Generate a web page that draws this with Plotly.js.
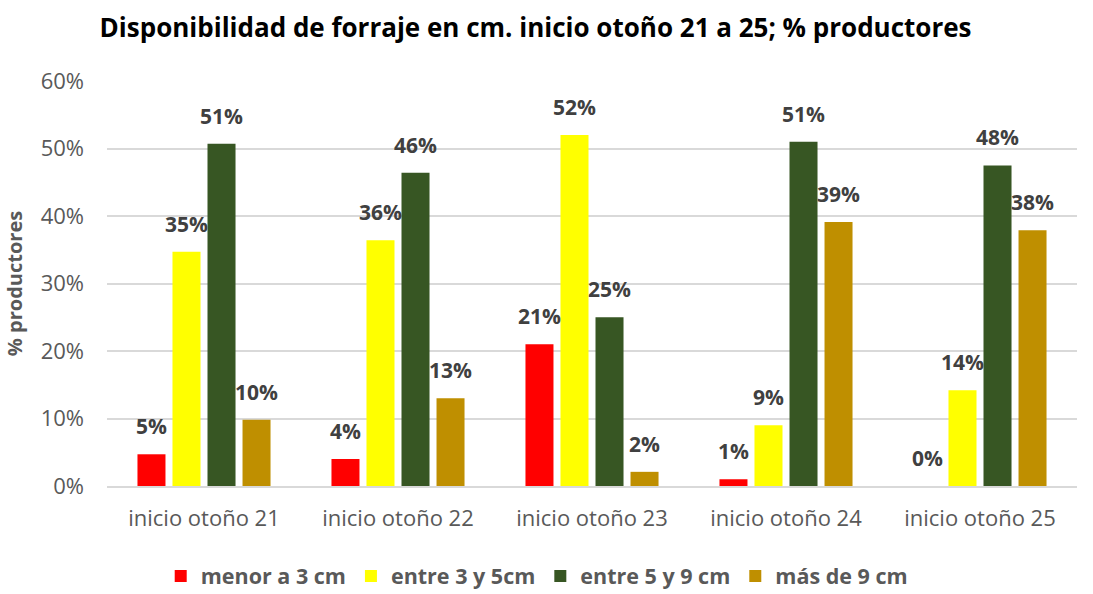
<!DOCTYPE html>
<html>
<head>
<meta charset="utf-8">
<script src="https://cdn.plot.ly/plotly-3.0.1.min.js"></script>
<style>html,body{margin:0;padding:0;background:#fff;}#chart{width:1093px;height:594px;}</style>
</head>
<body>
<div id="chart"></div>
<script>
const categories = ["inicio otoño 21", "inicio otoño 22", "inicio otoño 23", "inicio otoño 24", "inicio otoño 25"];
const seriesNames = ["menor a 3 cm", "entre 3 y 5cm", "entre 5 y 9 cm", "más de 9 cm"];
const menor3 = [0.047, 0.040, 0.210, 0.010, 0.000];
const entre3y5 = [0.347, 0.364, 0.520, 0.090, 0.142];
const entre5y9 = [0.507, 0.464, 0.250, 0.510, 0.475];
const mas9 = [0.098, 0.130, 0.021, 0.391, 0.379];
const labels = [
  ["5%", "4%", "21%", "1%", "0%"],
  ["35%", "36%", "52%", "9%", "14%"],
  ["51%", "46%", "25%", "51%", "48%"],
  ["10%", "13%", "2%", "39%", "38%"]
];
const colors = ["#ff0000", "#ffff00", "#375623", "#bf8f00"];
const values = [menor3, entre3y5, entre5y9, mas9];

const BARGAP = 0.278;
const slot = (1 - BARGAP) / values.length;

const traces = values.map((v, i) => ({
  type: "bar",
  name: seriesNames[i],
  x: categories,
  y: v,
  marker: {color: colors[i]},
  hoverinfo: "x+y+name"
}));

const annotations = [];
values.forEach((v, i) => {
  v.forEach((val, j) => {
    annotations.push({
      xref: "x", yref: "y",
      x: j + (i - (values.length - 1) / 2) * slot,
      y: val,
      text: "<b>" + labels[i][j] + "</b>",
      showarrow: false,
      xanchor: "center", yanchor: "middle",
      yshift: 28,
      font: {family: "Open Sans, sans-serif", size: 21, color: "#404040"}
    });
  });
});

const layout = {
  width: 1093,
  height: 594,
  paper_bgcolor: "#ffffff",
  plot_bgcolor: "#ffffff",
  margin: {l: 107, r: 16, t: 81, b: 108, autoexpand: false},
  title: {
    text: "<b>Disponibilidad de forraje en cm. inicio otoño 21 a 25; % productores</b>",
    font: {family: "Open Sans, sans-serif", size: 26, color: "#000000"},
    x: 0.49, xanchor: "center", y: 0.953, yanchor: "middle"
  },
  barmode: "group",
  bargap: BARGAP,
  bargroupgap: 0.2,
  annotations: annotations,
  xaxis: {
    type: "category",
    automargin: false,
    tickfont: {family: "Open Sans, sans-serif", size: 22, color: "#595959"},
    ticklabelstandoff: 12,
    showline: true, linecolor: "#d9d9d9", linewidth: 2,
    ticks: "", showgrid: false
  },
  yaxis: {
    automargin: false,
    range: [0, 0.6],
    dtick: 0.1,
    tickformat: ".0%",
    tickfont: {family: "Open Sans, sans-serif", size: 22, color: "#595959"},
    ticklabelstandoff: 22,
    gridcolor: "#d9d9d9", gridwidth: 2,
    zeroline: false,
    ticks: "", ticklen: 0,
    title: {text: "<b>% productores</b>", font: {family: "Open Sans, sans-serif", size: 20, color: "#595959"}, standoff: 12}
  },
  legend: {
    orientation: "h",
    x: 0.443, xanchor: "center",
    y: -0.222, yanchor: "middle",
    font: {family: "Open Sans, sans-serif", size: 21.5, color: "#595959", weight: "bold"},
    itemwidth: 30,
    traceorder: "normal"
  },
  showlegend: true
};

Plotly.newPlot("chart", traces, layout, {displayModeBar: false, staticPlot: true});
</script>
</body>
</html>
